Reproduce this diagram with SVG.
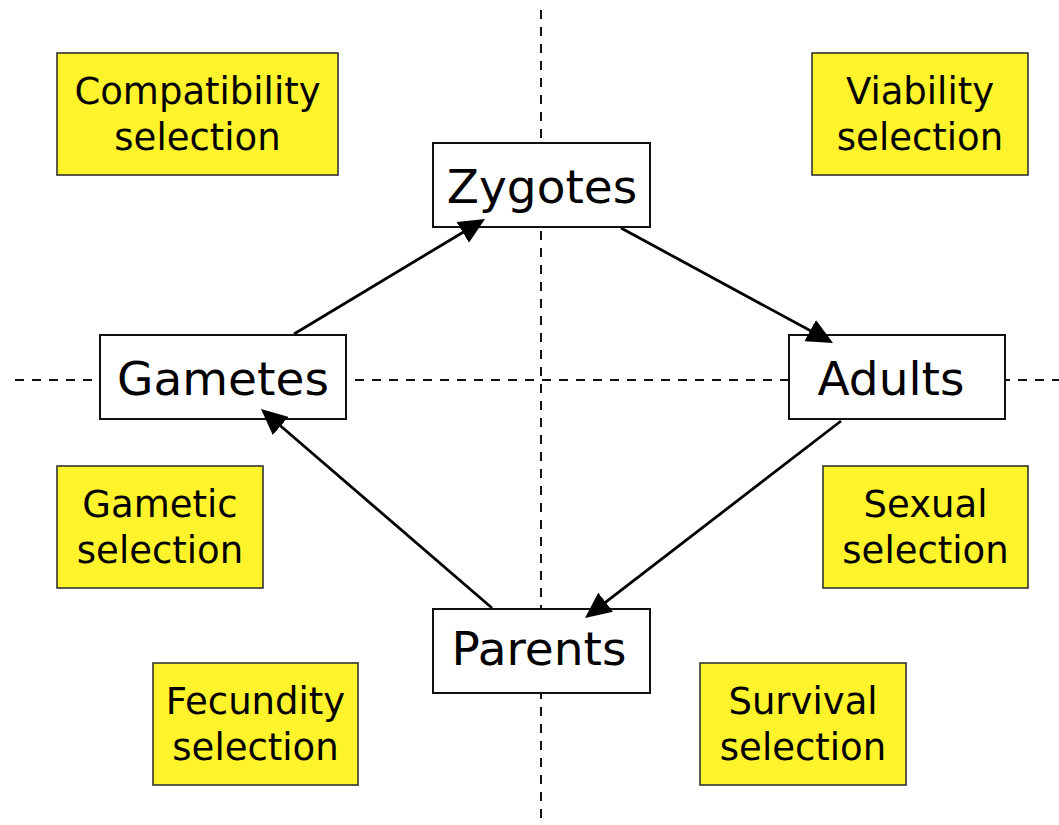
<svg xmlns="http://www.w3.org/2000/svg" width="1059" height="825" viewBox="0 0 1059 825">
<style>
.axis{stroke:#111;stroke-width:2;stroke-dasharray:9,8;fill:none}
.stage rect{fill:#fff;stroke:#111;stroke-width:2}
.stage text{font-family:"DejaVu Sans",sans-serif;font-size:47px;fill:#000;text-anchor:middle}
.sel rect{fill:#fff32b;stroke:#333;stroke-width:1.6}
.sel text{font-family:"DejaVu Sans",sans-serif;font-size:37px;fill:#000;text-anchor:middle}
.conn{stroke:#000;stroke-width:2.8;fill:none;marker-end:url(#ah)}
</style>
<defs>
<marker id="ah" viewBox="0 0 26 24" refX="13" refY="12" markerWidth="26" markerHeight="24" markerUnits="userSpaceOnUse" orient="auto">
<path d="M0,0 L26,12 L0,24 z" fill="#000"/>
</marker>
</defs>
<rect width="1059" height="825" fill="#fff"/>
<g id="axes">
<line class="axis" x1="541" y1="10" x2="541" y2="825"/>
<line class="axis" x1="15" y1="380" x2="1059" y2="380"/>
</g>
<g id="compatibility" class="sel"><rect x="57" y="53" width="281" height="122"/><text x="197.5" y="104">Compatibility</text><text x="197.5" y="150">selection</text></g>
<g id="viability" class="sel"><rect x="812" y="53" width="216" height="122"/><text x="920" y="104">Viability</text><text x="920" y="150">selection</text></g>
<g id="gametic" class="sel"><rect x="57" y="466" width="206" height="122"/><text x="160" y="517">Gametic</text><text x="160" y="563">selection</text></g>
<g id="sexual" class="sel"><rect x="823" y="466" width="205" height="122"/><text x="925.5" y="517">Sexual</text><text x="925.5" y="563">selection</text></g>
<g id="fecundity" class="sel"><rect x="153" y="663" width="205" height="122"/><text x="255.5" y="714">Fecundity</text><text x="255.5" y="760">selection</text></g>
<g id="survival" class="sel"><rect x="700" y="663" width="206" height="122"/><text x="803" y="714">Survival</text><text x="803" y="760">selection</text></g>
<g id="zygotes" class="stage"><rect x="433" y="143" width="217" height="84"/><text x="542" y="203">Zygotes</text></g>
<g id="gametes" class="stage"><rect x="100" y="335" width="246" height="84"/><text x="223" y="395">Gametes</text></g>
<g id="adults" class="stage"><rect x="789" y="335" width="216" height="84"/><text x="891" y="395">Adults</text></g>
<g id="parents" class="stage"><rect x="433" y="609" width="217" height="84"/><text x="539" y="665">Parents</text></g>
<g id="connectors">
<line class="conn" x1="294" y1="334" x2="473.9" y2="225.7"/>
<line class="conn" x1="621" y1="228" x2="821.6" y2="336.8"/>
<line class="conn" x1="841" y1="421" x2="595.3" y2="610.1"/>
<line class="conn" x1="492" y1="608" x2="270.8" y2="417.5"/>
</g>
</svg>
